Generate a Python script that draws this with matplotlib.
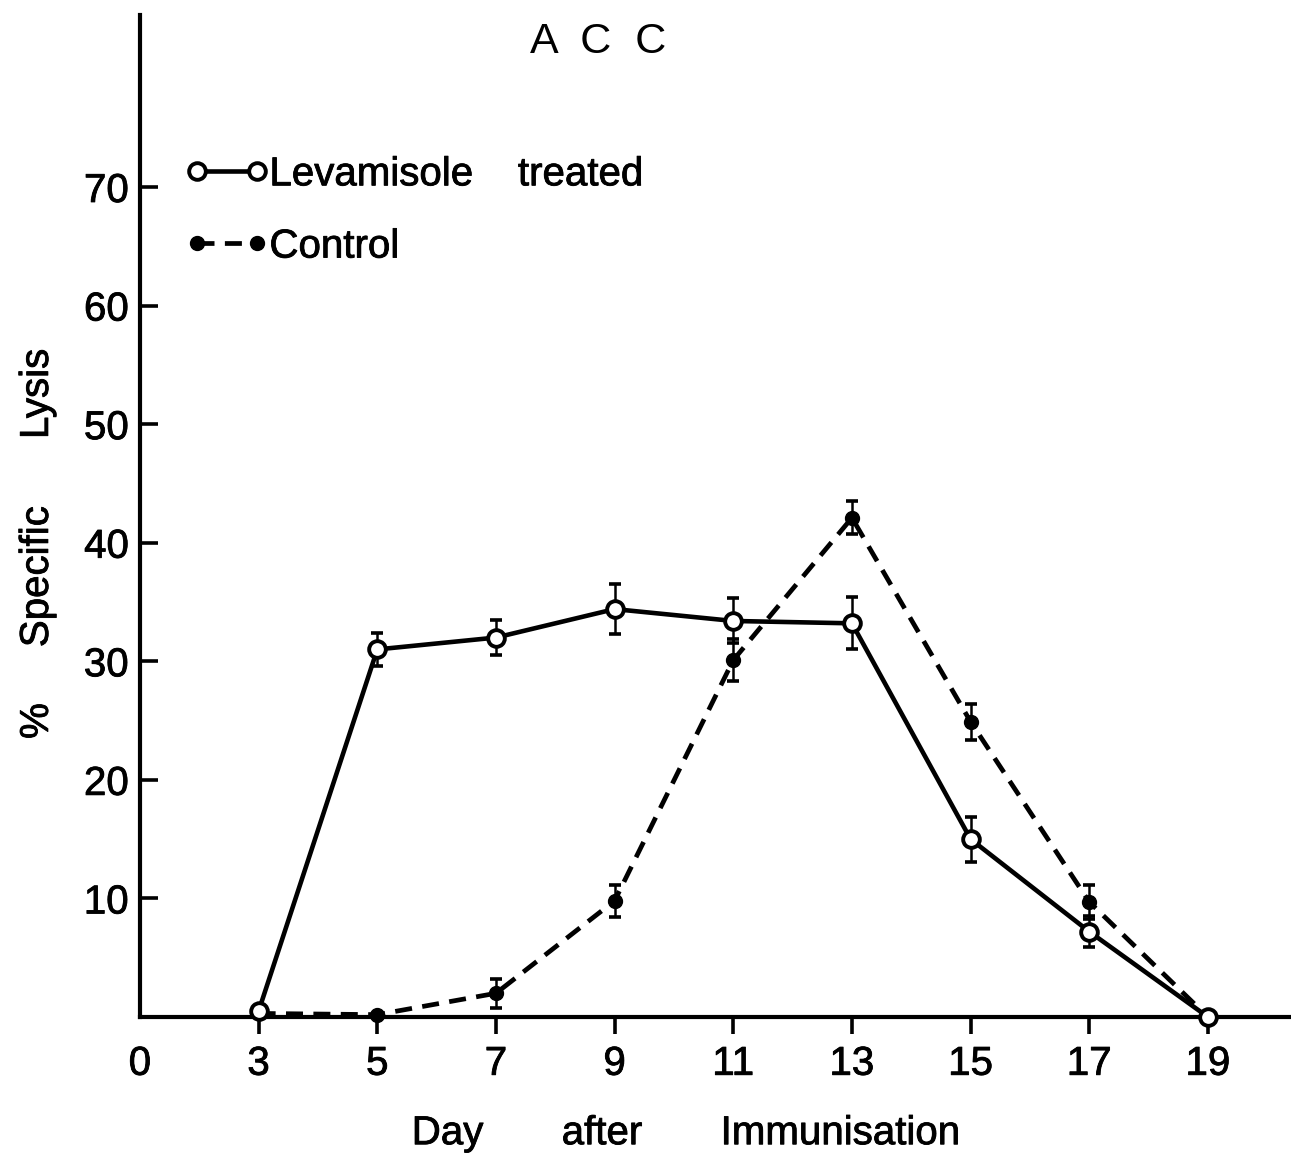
import matplotlib.pyplot as plt
import matplotlib.patheffects as pe
from matplotlib.text import Text

plt.rcParams['font.family'] = ['Liberation Sans', 'DejaVu Sans']

# day after immunisation and % specific lysis (mean +/- error)
days = [3, 5, 7, 9, 11, 13, 15, 17, 19]
levamisole = [0.5, 31.0, 32.0, 34.4, 33.4, 33.2, 15.0, 7.2, 0.0]
levamisole_err = [0, 1.4, 1.5, 2.1, 1.9, 2.2, 1.9, 1.3, 0]
control = [0.3, 0.2, 2.0, 9.8, 30.1, 42.1, 24.9, 9.7, 0.0]
control_err = [0, 0, 1.2, 1.35, 1.8, 1.4, 1.5, 1.4, 0]

xtick_pos = [1, 3, 5, 7, 9, 11, 13, 15, 17, 19]
xtick_labels = ['0', '3', '5', '7', '9', '11', '13', '15', '17', '19']
ytick_pos = [10, 20, 30, 40, 50, 60, 70]

FS = 29


def with_error(x, y, err):
    keep = [i for i, e in enumerate(err) if e > 0]
    return [x[i] for i in keep], [y[i] for i in keep], [err[i] for i in keep]


fig = plt.figure(figsize=(12.91, 11.57), dpi=100)
ax = fig.add_axes([0.1084, 0.121, 0.8916, 0.866])

# error bars first, lines on top
for y, err in ((levamisole, levamisole_err), (control, control_err)):
    ex, ey, ee = with_error(days, y, err)
    ax.errorbar(ex, ey, yerr=ee, fmt='none', ecolor='black', elinewidth=1.8,
                capsize=4.5, capthick=2.6, zorder=2, clip_on=False)

lev_line, = ax.plot(days, levamisole, '-', color='black', lw=3.3,
                    marker='o', ms=12, mfc='white', mec='black', mew=2.8,
                    zorder=4, clip_on=False, label='Levamisole    treated')
ctl_line, = ax.plot(days, control, '--', color='black', lw=3.4,
                    dashes=(3.6, 2.2), marker='o', ms=10, mfc='black',
                    mec='black', zorder=3, clip_on=False, label='Control')

ax.set_xlim(1, 20.4)
ax.set_ylim(0, 84.5)

for side in ('top', 'right'):
    ax.spines[side].set_visible(False)
for side in ('left', 'bottom'):
    ax.spines[side].set_linewidth(3.0)

ax.set_xticks(xtick_pos)
ax.set_xticklabels(xtick_labels)
ax.set_yticks(ytick_pos)
ax.tick_params(axis='x', direction='out', length=12, width=2.6, pad=8, labelsize=FS)
ax.tick_params(axis='y', direction='in', length=13, width=2.6, pad=8, labelsize=FS)
ax.xaxis.get_major_ticks()[0].tick1line.set_visible(False)

ax.set_xlabel('Day       after       Immunisation', fontsize=FS)
ax.xaxis.set_label_coords(0.474, -0.097)
ax.set_ylabel('%     Specific      Lysis', fontsize=FS)
ax.yaxis.set_label_coords(-0.073, 0.472)

leg = ax.legend(handles=[lev_line, ctl_line], numpoints=2, handlelength=2.1,
                handletextpad=0.0, labelspacing=0.85, frameon=False,
                borderpad=0, borderaxespad=0, fontsize=FS,
                loc='upper left', bbox_to_anchor=(0.039, 0.860))

fig.text(598 / 1291, 1 - 42 / 1157, 'A  C  C', fontsize=FS + 2, ha='center', va='center')

# slightly heavier strokes on the lettering (draw once so tick labels exist)
fig.canvas.draw()
for t in fig.findobj(Text):
    if t.get_text() and t.get_text() != 'A  C  C':
        t.set_path_effects([pe.withStroke(linewidth=0.6, foreground='black')])

fig.savefig('out.png', dpi=100, facecolor='white')
